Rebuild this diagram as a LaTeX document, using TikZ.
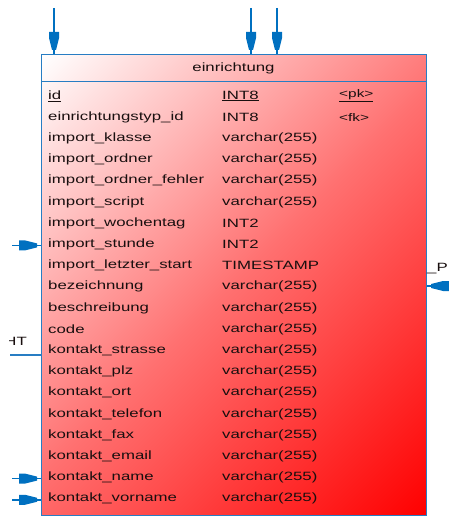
\documentclass[tikz,border=0pt]{standalone}
\usepackage{fontspec}
\setmainfont{Liberation Sans}[FakeStretch=1.4]
\usetikzlibrary{calc}
\definecolor{bordblue}{RGB}{40,125,195}
\definecolor{fkblue}{RGB}{0,112,192}
\definecolor{txt}{RGB}{25,15,15}
\definecolor{midred}{RGB}{255,112,112}
\pgfdeclarehorizontalshading{entgrad}{100bp}{color(0bp)=(white); color(14.6bp)=(white); color(50bp)=(midred); color(85.4bp)=(red); color(100bp)=(red)}
\tikzset{
  fkhead/.pic={\fill[fkblue] (-22,5) -- (-16,5) -- (-4,2) -- (-4,-2) -- (-16,-5) -- (-22,-5) -- cycle;},
  conn/.style={draw=fkblue, line width=1.4pt},
  entity/.style={draw=bordblue, line width=1.2pt, shading=entgrad, shading angle=-45, inner sep=0pt},
  coltext/.style={anchor=west, inner sep=0pt, text=txt, font=\fontsize{12}{14}\selectfont},
  keytext/.style={anchor=west, inner sep=0pt, text=txt, font=\fontsize{11}{13}\selectfont},
}
\begin{document}
\begin{tikzpicture}[x=1pt,y=-1pt]
\useasboundingbox (0,0) rectangle (449,516);
\node[entity, minimum width=385pt, minimum height=461pt, anchor=north west] (tbl) at (41,54) {};
\node[coltext, anchor=center] (hdr) at (233.5,68) {einrichtung};
\coordinate (hs) at (0,81.5);
\draw[bordblue, line width=1.2pt] (tbl.west |- hs) -- (tbl.east |- hs);
% rows
\foreach \n/\t [count=\i from 0] in {
  {\underline{id}}/{\underline{INT8}},
  einrichtungstyp\_id/INT8,
  import\_klasse/varchar(255),
  import\_ordner/varchar(255),
  import\_ordner\_fehler/varchar(255),
  import\_script/varchar(255),
  import\_wochentag/INT2,
  import\_stunde/INT2,
  import\_letzter\_start/TIMESTAMP,
  bezeichnung/varchar(255),
  beschreibung/varchar(255),
  code/varchar(255),
  kontakt\_strasse/varchar(255),
  kontakt\_plz/varchar(255),
  kontakt\_ort/varchar(255),
  kontakt\_telefon/varchar(255),
  kontakt\_fax/varchar(255),
  kontakt\_email/varchar(255),
  kontakt\_name/varchar(255),
  kontakt\_vorname/varchar(255)} {
  \node[coltext] (n\i) at (48,96+21.2*\i) {\n};
  \node[coltext] (t\i) at (222,96+21.2*\i) {\t};
}
\node[keytext] (k0) at (339,96) {\underline{<pk>}};
\node[keytext] (k1) at (339,117.2) {<fk>};
% top connectors
\coordinate (ta) at (54,8);
\coordinate (tb) at (251,8);
\coordinate (tc) at (277,8);
\foreach \c in {ta,tb,tc} {
  \draw[conn] (\c) -- (\c |- tbl.north);
  \pic[rotate=-90] at (\c |- tbl.north) {fkhead};
}
% left connectors
\coordinate (la) at (12,245.4);
\coordinate (lb) at (12,478.6);
\coordinate (lc) at (12,499.8);
\foreach \c in {la,lb,lc} {
  \draw[conn] (\c) -- (\c -| tbl.west);
  \pic at (\c -| tbl.west) {fkhead};
}
% HT connector
\coordinate (lh) at (10,355);
\draw[conn, draw=bordblue, line width=1.2pt] (lh) -- (lh -| tbl.west);
\begin{scope}
\clip (9,320) rectangle (40,360);
\node[coltext, anchor=east] (ht) at (27,341) {HT};
\end{scope}
% right connector
\coordinate (ra) at (452,286);
\draw[conn] (ra) -- (ra -| tbl.east);
\pic[rotate=180] at (ra -| tbl.east) {fkhead};
\node[coltext] (rp) at (427,269) {\_P};
\end{tikzpicture}
\end{document}
